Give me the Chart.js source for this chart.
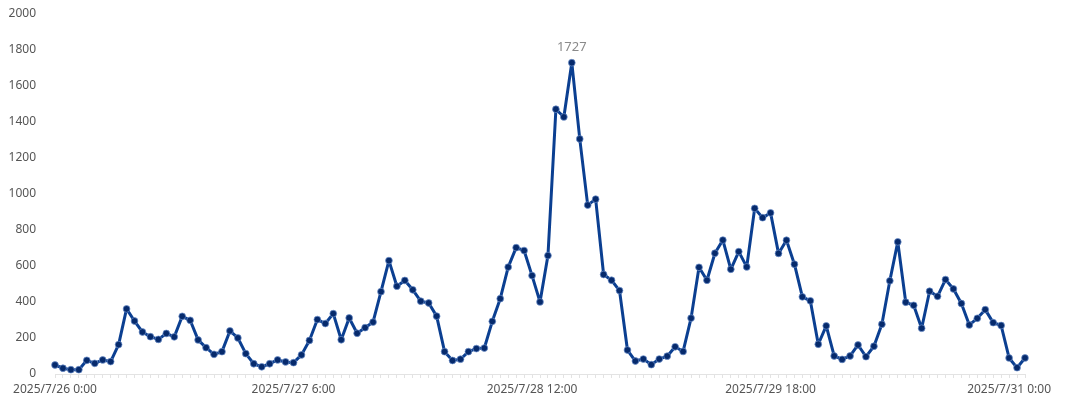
<!DOCTYPE html>
<html>
<head>
<meta charset="utf-8">
<script src="https://cdn.jsdelivr.net/npm/chart.js@4/dist/chart.umd.min.js"></script>
<style>
  html, body { margin: 0; padding: 0; background: #ffffff; }
  #wrap { width: 1080px; height: 405px; position: relative; }
</style>
</head>
<body>
<div id="wrap"><canvas id="c" width="1080" height="405"></canvas></div>
<script>
// ---- data ----
const startDay = 26;          // 2025/7/26 0:00, hourly points
const hourCount = 123;        // 7/26 0:00 .. 7/31 2:00
const categories = [];
for (let h = 0; h < hourCount; h++) {
  const d = startDay + Math.floor(h / 24);
  categories.push('2025/7/' + d + ' ' + (h % 24) + ':00');
}
const tickLabelIndexes = [0, 30, 60, 90, 120];
const yTicks = [0, 200, 400, 600, 800, 1000, 1200, 1400, 1600, 1800, 2000];
const values = [
  50, 32, 24, 24, 76, 59, 78, 69, 163, 361,
  294, 233, 207, 192, 225, 206, 320, 298, 189, 146,
  109, 124, 239, 200, 113, 57, 40, 57, 78, 67,
  63, 106, 186, 302, 280, 335, 190, 311, 226, 257,
  288, 457, 629, 487, 519, 467, 404, 394, 321, 124,
  75, 82, 124, 141, 144, 292, 418, 593, 701, 685,
  546, 400, 657, 1469, 1426, 1727, 1304, 937, 970, 552,
  520, 463, 133, 72, 83, 52, 83, 99, 151, 125,
  310, 592, 520, 670, 743, 581, 679, 594, 919, 867,
  894, 669, 742, 609, 428, 406, 165, 267, 100, 81,
  100, 161, 96, 154, 276, 517, 733, 398, 381, 254,
  459, 431, 524, 472, 391, 272, 309, 357, 285, 269,
  89, 35, 89
];

// draw the max value label above its point
const maxLabelPlugin = {
  id: 'maxLabel',
  afterDatasetsDraw(chart) {
    const meta = chart.getDatasetMeta(0);
    let mi = 0;
    values.forEach((v, i) => { if (v > values[mi]) mi = i; });
    const el = meta.data[mi];
    const ctx = chart.ctx;
    ctx.save();
    ctx.font = '13px "Noto Sans", sans-serif';
    ctx.fillStyle = '#8a8a8a';
    ctx.textAlign = 'center';
    ctx.textBaseline = 'bottom';
    ctx.fillText(String(values[mi]), el.x, el.y - 9);
    ctx.restore();
  }
};

new Chart(document.getElementById('c'), {
  type: 'line',
  data: {
    labels: categories,
    datasets: [{
      data: values,
      borderColor: '#0b3f91',
      borderWidth: 3,
      borderJoinStyle: 'round',
      borderCapStyle: 'round',
      tension: 0,
      pointRadius: 3.4,
      pointBackgroundColor: '#062a6c',
      pointBorderColor: 'rgba(110,145,205,0.7)',
      pointBorderWidth: 1,
      fill: false
    }]
  },
  options: {
    responsive: false,
    animation: false,
    layout: { padding: { top: 13.5, right: 55, bottom: 0, left: 0 } },
    plugins: { legend: { display: false }, tooltip: { enabled: false } },
    scales: {
      x: {
        type: 'category',
        offset: false,
        grid: { display: true, drawOnChartArea: false, drawTicks: true, tickLength: 4, color: '#e3e3e3' },
        border: { display: true, color: '#e3e3e3' },
        ticks: {
          autoSkip: false, maxRotation: 0, minRotation: 0, padding: 4,
          color: '#555', font: { family: '"Noto Sans", sans-serif', size: 12 },
          callback: (v, i) => tickLabelIndexes.includes(i) ? categories[i] : ''
        },
        afterFit: (s) => { s.height = 31; s.paddingRight = 0; }
      },
      y: {
        min: 0, max: 2000,
        afterBuildTicks: (s) => { s.ticks = yTicks.map(v => ({ value: v })); },
        grid: { display: false },
        border: { display: false },
        ticks: {
          padding: 11, color: '#555', font: { family: '"Noto Sans", sans-serif', size: 12 },
          callback: (v) => String(v)
        },
        afterFit: (s) => { s.width = 55; s.paddingTop = 0; s.paddingBottom = 0; }
      }
    }
  },
  plugins: [maxLabelPlugin]
});
</script>
</body>
</html>
